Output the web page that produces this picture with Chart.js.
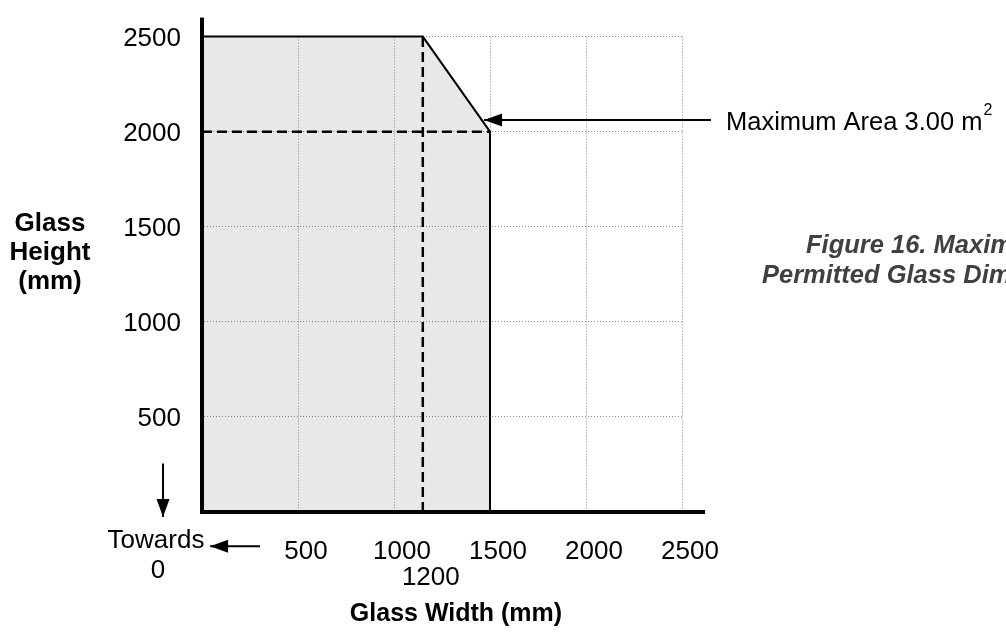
<!DOCTYPE html>
<html>
<head>
<meta charset="utf-8">
<script src="https://cdn.jsdelivr.net/npm/chart.js@4/dist/chart.umd.min.js"></script>
<style>
  html, body { margin:0; padding:0; background:#fff; }
  #c { display:block; }
</style>
</head>
<body>
<canvas id="c" width="1006" height="635"></canvas>
<script>
// Permitted glass size envelope (width, height in mm)
const envelopeW = [0, 1150, 1500, 1500];
const envelopeH = [2500, 2500, 2000, 0];
// dashed guide lines
const guideHW = [0, 1500];
const guideHH = [2000, 2000];
const guideVW = [1150, 1150];
const guideVH = [0, 2500];
// arrows (tail -> tip)
const areaArrowW = [2651, 1469];
const areaArrowH = [2062, 2062];
const downArrowW = [-203, -203];
const downArrowH = [255, -26];
const leftArrowW = [302, 42];
const leftArrowH = [-180, -180];
// axis lines carried past the 2500 grid
const yAxisExtW = [0, 0];
const yAxisExtH = [2500, 2600];
const xAxisExtW = [2500, 2620];
const xAxisExtH = [0, 0];
// ticks
const xTickValues = [500, 1000, 1500, 2000, 2500];
const yTickValues = [500, 1000, 1500, 2000, 2500];
const widthMarkValue = 1150;
const widthMarkLabel = '1200';

const pts = (xs, ys) => xs.map((x, i) => ({ x: x, y: ys[i] }));
const FONT = '"Liberation Sans", Arial, sans-serif';

function lineSet(xs, ys, extra) {
  return Object.assign({
    data: pts(xs, ys),
    borderColor: '#000',
    borderWidth: 2,
    pointRadius: 0,
    fill: false,
    tension: 0,
    clip: false
  }, extra || {});
}

// filled arrow heads at the last point of flagged datasets
const arrowHeads = {
  id: 'arrowHeads',
  afterDatasetsDraw(chart) {
    const ctx = chart.ctx;
    chart.data.datasets.forEach((ds, i) => {
      if (!ds.arrowHead) return;
      const els = chart.getDatasetMeta(i).data;
      const a = els[els.length - 2], b = els[els.length - 1];
      const ang = Math.atan2(b.y - a.y, b.x - a.x);
      const len = 18, half = 6.5;
      ctx.save();
      ctx.fillStyle = '#000';
      ctx.translate(b.x, b.y);
      ctx.rotate(ang);
      ctx.beginPath();
      ctx.moveTo(0, 0);
      ctx.lineTo(-len, -half);
      ctx.lineTo(-len, half);
      ctx.closePath();
      ctx.fill();
      ctx.restore();
    });
  }
};

// free text: axis titles, callout and caption
const labels = {
  id: 'labels',
  afterDraw(chart) {
    const ctx = chart.ctx;
    ctx.save();
    ctx.fillStyle = '#000';
    ctx.textBaseline = 'middle';
    ctx.textAlign = 'center';
    ctx.font = 'bold 26px ' + FONT;
    ctx.fillText('Glass', 50, 224);
    ctx.fillText('Height', 50, 253);
    ctx.fillText('(mm)', 50, 282);
    ctx.font = 'bold 25px ' + FONT;
    ctx.fillText('Glass Width (mm)', 456, 614);
    ctx.font = '26px ' + FONT;
    ctx.fillText('Towards', 156, 541);
    ctx.fillText('0', 158, 571);

    ctx.textAlign = 'left';
    ctx.font = '25.5px ' + FONT;
    const t = 'Maximum Area 3.00 m';
    ctx.fillText(t, 726, 123);
    const w = ctx.measureText(t).width;
    ctx.font = '16px ' + FONT;
    ctx.fillText('2', 726 + w + 1, 111);

    ctx.fillStyle = '#404040';
    ctx.font = 'italic bold 25.5px ' + FONT;
    ctx.fillText('Figure 16. Maximum', 806, 246);
    ctx.fillText('Permitted Glass Dimensions', 762, 276);
    ctx.restore();
  }
};

const gridColor = c => (c.tick && c.tick.value === widthMarkValue) ? 'rgba(0,0,0,0)' : '#8c8c8c';

new Chart(document.getElementById('c'), {
  type: 'line',
  data: {
    datasets: [
      lineSet(yAxisExtW, yAxisExtH, { borderWidth: 4 }),
      lineSet(xAxisExtW, xAxisExtH, { borderWidth: 4 }),
      lineSet(areaArrowW, areaArrowH, { arrowHead: true }),
      lineSet(downArrowW, downArrowH, { arrowHead: true }),
      lineSet(leftArrowW, leftArrowH, { arrowHead: true }),
      lineSet(guideHW, guideHH, { borderWidth: 2.5, borderDash: [10, 5] }),
      lineSet(guideVW, guideVH, { borderWidth: 2.5, borderDash: [10, 5] }),
      lineSet(envelopeW, envelopeH, { borderWidth: 2, fill: 'origin', backgroundColor: 'rgba(0,0,0,0.09)' })
    ]
  },
  options: {
    responsive: false,
    devicePixelRatio: 1,
    animation: false,
    layout: { padding: { left: 0, top: 32, right: 324, bottom: 0 } },
    plugins: { legend: { display: false }, tooltip: { enabled: false } },
    scales: {
      x: {
        type: 'linear',
        min: 0, max: 2500,
        afterBuildTicks: s => {
          s.ticks = xTickValues.concat([widthMarkValue]).sort((a, b) => a - b).map(v => ({ value: v }));
        },
        afterFit: s => { s.height = 123; },
        ticks: {
          autoSkip: false, maxRotation: 0, padding: 27, labelOffset: 8,
          color: '#000',
          font: { family: FONT, size: 26, lineHeight: 1.0 },
          callback: v => v === widthMarkValue ? ['', widthMarkLabel] : String(v)
        },
        grid: { color: gridColor, lineWidth: 1, drawTicks: false },
        border: { display: true, color: '#000', width: 4, dash: [1, 2] }
      },
      y: {
        min: 0, max: 2500,
        afterBuildTicks: s => { s.ticks = yTickValues.map(v => ({ value: v })); },
        afterFit: s => { s.width = 202; },
        ticks: {
          padding: 21, labelOffset: 2, color: '#000',
          font: { family: FONT, size: 26 },
          callback: v => String(v)
        },
        grid: { color: '#8c8c8c', lineWidth: 1, drawTicks: false },
        border: { display: true, color: '#000', width: 4, dash: [1, 2] }
      }
    }
  },
  plugins: [arrowHeads, labels]
});
</script>
</body>
</html>
